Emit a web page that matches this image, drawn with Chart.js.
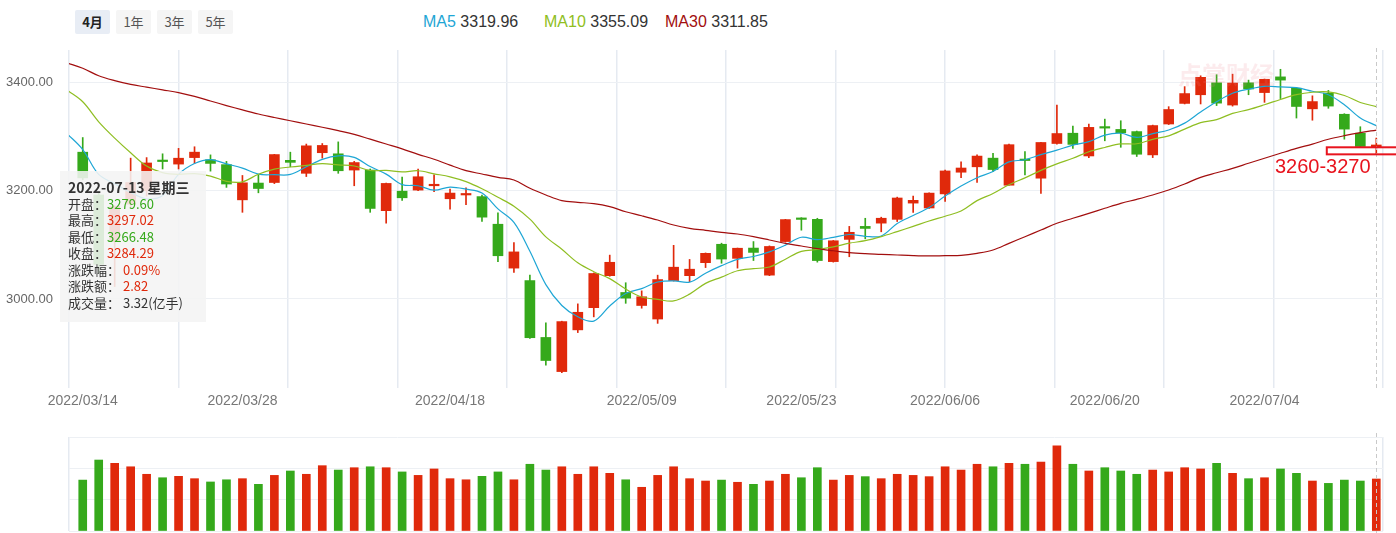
<!DOCTYPE html>
<html>
<head>
<meta charset="utf-8">
<script src="https://cdn.jsdelivr.net/npm/chart.js@4.4.1/dist/chart.umd.min.js"></script>
<style>
  body { margin: 0; background: #fff; width: 1396px; height: 533px; overflow: hidden; position: relative;
         font-family: "Noto Sans CJK SC", "Noto Sans", sans-serif; }
  #main { position: absolute; left: 0; top: 0; }
  #vol { position: absolute; left: 0; top: 430px; }
  .btn { position: absolute; top: 10px; width: 35px; height: 24px; line-height: 24px; text-align: center;
         font-size: 13px; background: #f5f5f5; color: #555; border-radius: 2px; }
  .btn.on { background: #e8edf5; color: #222; font-weight: bold; }
  .lg { position: absolute; top: 13px; font: 16px "Liberation Sans", Arial, sans-serif; color: #333; white-space: nowrap; }
  #tip { position: absolute; left: 60px; top: 171px; width: 146px; height: 151px; box-sizing: border-box;
         padding: 8px 0 0 8px; background: rgba(244, 244, 244, 0.88); font-size: 13px; line-height: 16.5px; color: #333; }
  #tip .d { font-weight: bold; font-size: 14px; }
  #wm { position: absolute; left: 1178px; top: 56px; font-size: 24px; font-weight: bold; color: rgba(235, 130, 140, 0.16); }
</style>
</head>
<body>
<div class="btn on" style="left:75px">4月</div>
<div class="btn" style="left:116px">1年</div>
<div class="btn" style="left:157px">3年</div>
<div class="btn" style="left:198px">5年</div>
<div class="lg" id="lg5" style="left:423px"></div>
<div class="lg" id="lg10" style="left:544px"></div>
<div class="lg" id="lg30" style="left:665px"></div>
<canvas id="main" width="1396" height="412"></canvas>
<canvas id="vol" width="1396" height="103"></canvas>
<div id="wm">点掌财经</div>
<div id="tip"></div>
<script>
// trading sessions shown (2022)
const dates = [
  '03-14','03-15','03-16','03-17','03-18','03-21','03-22','03-23','03-24','03-25','03-28','03-29','03-30','03-31',
  '04-01','04-06','04-07','04-08','04-11','04-12','04-13','04-14','04-15','04-18','04-19','04-20','04-21','04-22',
  '04-25','04-26','04-27','04-28','04-29','05-05','05-06','05-09','05-10','05-11','05-12','05-13','05-16','05-17',
  '05-18','05-19','05-20','05-23','05-24','05-25','05-26','05-27','05-30','05-31','06-01','06-02','06-06','06-07',
  '06-08','06-09','06-10','06-13','06-14','06-15','06-16','06-17','06-20','06-21','06-22','06-23','06-24','06-27',
  '06-28','06-29','06-30','07-01','07-04','07-05','07-06','07-07','07-08','07-11','07-12','07-13'
];
const year = '2022';

const opens = [
  3271, 3192, 3106, 3175, 3200, 3256, 3249, 3261, 3257, 3248, 3183, 3214, 3215, 3256,
  3232, 3270, 3268, 3238, 3238, 3163, 3199, 3201, 3209, 3185, 3192, 3189, 3138, 3057,
  3034, 2929, 2866, 2943, 2984, 3043, 3012, 2988, 2963, 3034, 3043, 3067, 3101, 3075,
  3094, 3044, 3106, 3149, 3147, 3069, 3110, 3134, 3140, 3147, 3177, 3168, 3194, 3234,
  3244, 3260, 3210, 3257, 3223, 3287, 3306, 3264, 3317, 3313, 3309, 3266, 3323, 3361,
  3377, 3399, 3358, 3399, 3381, 3410, 3389, 3351, 3380, 3341, 3306, 3279.60
];
const highs = [
  3298, 3198, 3172, 3260, 3261, 3268, 3278, 3281, 3266, 3254, 3228, 3229, 3267, 3271,
  3286, 3287, 3290, 3254, 3240, 3214, 3225, 3240, 3229, 3203, 3205, 3192, 3159, 3104,
  3044, 2956, 2959, 2991, 3048, 3081, 3030, 3015, 3044, 3099, 3073, 3085, 3103, 3094,
  3106, 3098, 3147, 3150, 3149, 3108, 3134, 3149, 3151, 3188, 3190, 3196, 3238, 3253,
  3266, 3269, 3286, 3272, 3289, 3358, 3319, 3323, 3332, 3329, 3310, 3321, 3355, 3392,
  3412, 3414, 3415, 3404, 3406, 3424, 3390, 3375, 3385, 3342, 3318, 3297.02
];
const lows = [
  3220, 3047, 3023, 3168, 3190, 3240, 3240, 3250, 3236, 3206, 3160, 3196, 3213, 3244,
  3226, 3260, 3232, 3209, 3160, 3140, 3182, 3200, 3198, 3166, 3174, 3143, 3069, 3049,
  2927, 2878, 2864, 2938, 2967, 3042, 2992, 2983, 2955, 3033, 3032, 3058, 3066, 3057,
  3071, 3043, 3105, 3127, 3068, 3068, 3078, 3111, 3124, 3143, 3160, 3167, 3180, 3224,
  3215, 3235, 3210, 3229, 3195, 3286, 3278, 3261, 3292, 3280, 3263, 3261, 3322, 3360,
  3360, 3357, 3356, 3377, 3363, 3370, 3334, 3330, 3352, 3295, 3280, 3266.48
];
const closes = [
  3223.53, 3063.97, 3170.71, 3215.04, 3251.07, 3253.69, 3259.86, 3271.03, 3250.26, 3212.24, 3214.50, 3203.94, 3266.60, 3252.20,
  3282.72, 3283.43, 3236.70, 3251.85, 3167.13, 3213.33, 3186.82, 3225.64, 3211.24, 3195.52, 3194.03, 3151.05, 3079.81, 3086.92,
  2928.51, 2886.43, 2958.28, 2975.48, 3047.06, 3067.76, 3001.56, 3004.14, 3035.84, 3058.70, 3054.99, 3084.28, 3073.75, 3093.70,
  3085.98, 3096.96, 3146.57, 3146.86, 3070.93, 3107.46, 3123.11, 3130.24, 3149.06, 3186.43, 3182.16, 3195.46, 3236.37, 3241.76,
  3263.79, 3238.95, 3284.83, 3255.55, 3288.91, 3305.41, 3285.38, 3316.79, 3315.43, 3306.72, 3267.20, 3320.15, 3349.75, 3379.19,
  3409.21, 3361.52, 3398.62, 3387.64, 3405.43, 3404.03, 3355.35, 3364.40, 3356.08, 3313.58, 3281.47, 3284.29
];
// 成交量, 亿手
const volumes = [
  3.25, 4.53, 4.32, 4.10, 3.62, 3.40, 3.49, 3.34, 3.13, 3.27, 3.34, 2.98, 3.55, 3.83,
  3.62, 4.17, 3.89, 4.04, 4.10, 4.04, 3.77, 3.55, 3.96, 3.34, 3.27, 3.49, 3.77, 3.27,
  4.26, 3.89, 4.10, 3.62, 4.10, 3.68, 3.27, 2.79, 3.55, 4.10, 3.34, 3.19, 3.25, 3.11,
  2.98, 3.19, 3.62, 3.40, 4.04, 3.25, 3.55, 3.47, 3.34, 3.62, 3.55, 3.47, 4.10, 3.89,
  4.26, 4.10, 4.32, 4.26, 4.40, 5.44, 4.26, 3.83, 4.04, 3.83, 3.62, 3.89, 3.77, 4.04,
  3.96, 4.32, 3.68, 3.34, 3.40, 3.96, 3.68, 3.19, 3.04, 3.25, 3.19, 3.32
];
// moving averages: first value belongs to the session before dates[0]
const ma5 = [
  3305.7, 3275.9, 3229.9, 3212.8, 3196.6, 3184.9, 3190.9, 3230.1, 3250.1, 3257.2, 3249.4, 3241.6, 3230.4, 3229.5, 3229.9,
  3244.0, 3257.8, 3264.3, 3261.4, 3244.4, 3230.5, 3211.2, 3209.0, 3200.8, 3206.5, 3202.7, 3195.5, 3166.3, 3141.5,
  3088.1, 3026.5, 2988.0, 2967.1, 2959.2, 2987.0, 3010.0, 3019.2, 3031.3, 3033.6, 3031.0, 3047.6, 3061.5, 3073.1,
  3078.5, 3086.9, 3099.4, 3114.0, 3109.5, 3113.8, 3119.0, 3115.7, 3116.2, 3139.3, 3154.2, 3168.7, 3189.9, 3208.4,
  3223.9, 3235.3, 3253.1, 3257.0, 3266.4, 3274.7, 3284.0, 3290.4, 3302.4, 3305.9, 3298.3, 3305.3, 3311.9, 3324.6,
  3345.1, 3364.0, 3379.7, 3387.2, 3392.5, 3391.4, 3390.2, 3383.4, 3377.1, 3358.7, 3334.2, 3319.96
];
const ma10 = [
  3386, 3364, 3327, 3297, 3270, 3245.3, 3233.4, 3230.0, 3231.5, 3226.9, 3217.2, 3216.3, 3230.3, 3239.8, 3243.6,
  3246.7, 3249.7, 3247.4, 3245.5, 3237.2, 3237.3, 3234.5, 3236.7, 3231.1, 3225.5, 3216.6, 3203.4, 3187.7, 3171.2,
  3147.3, 3114.6, 3091.8, 3066.7, 3050.4, 3037.6, 3018.3, 3003.6, 2999.2, 2996.4, 3009.0, 3028.8, 3040.4, 3052.2,
  3056.1, 3059.0, 3073.5, 3087.8, 3091.3, 3096.2, 3103.0, 3107.6, 3115.1, 3124.4, 3134.0, 3143.9, 3152.8, 3162.3,
  3181.6, 3194.8, 3210.9, 3223.5, 3237.4, 3249.3, 3259.7, 3271.8, 3279.7, 3286.2, 3286.5, 3294.7, 3301.2, 3313.5,
  3325.5, 3331.2, 3342.5, 3349.6, 3358.6, 3368.3, 3377.1, 3381.6, 3382.2, 3375.6, 3362.8, 3355.09
];
const ma30 = [
  3436, 3425.8, 3412, 3403, 3396, 3391, 3386, 3381, 3374, 3365.5, 3357, 3349, 3341.5, 3335, 3329,
  3323, 3317, 3310.7, 3304, 3295, 3286, 3277, 3267, 3258, 3247, 3237, 3230.7, 3224.6, 3219.6,
  3204.3, 3192, 3181.5, 3178.5, 3176, 3170.4, 3161, 3153.7, 3145.8, 3136.6, 3130.5, 3126.8, 3123, 3120,
  3115, 3108.9, 3102.7, 3097.8, 3092.8, 3089, 3085.5, 3083.6, 3082.5, 3081.2, 3080, 3079.4, 3080, 3080.5,
  3084.3, 3090.4, 3102.7, 3115, 3127.3, 3139.7, 3149, 3158, 3167.4, 3176.6, 3184, 3192, 3201.2, 3212.3,
  3224.6, 3233, 3241, 3250.5, 3259.7, 3269, 3278, 3286, 3294.8, 3301.4, 3307, 3311.85
];
const xTickLabels = ['2022/03/14', '2022/03/28', '2022/04/18', '2022/05/09', '2022/05/23', '2022/06/06', '2022/06/20', '2022/07/04'];
const yTicks = [3000, 3200, 3400];
const volTicks = [0, 2, 4, 6];
const zoneBand = [3267, 3280];
const zoneText = '3260-3270';
const zoneStart = 77.9;

const UP = '#e0290b', DOWN = '#35a91b';
const GRID = '#e5eaf1', HGRID = '#edf0f4';
const FONT = '"Liberation Sans", Arial, sans-serif';

const xMin = -0.86, xMax = 81.42;
const gridVals = Array.from({ length: 13 }, (_, k) => xMin + k * (xMax - xMin) / 12);
const labelAt = {};
xTickLabels.forEach(l => { labelAt[dates.indexOf(l.slice(5).replace('/', '-'))] = l; });

const candleColor = i => closes[i] >= opens[i] ? UP : DOWN;
const colors = dates.map((d, i) => candleColor(i));
const last = dates.length - 1;

// dashed crosshair on the latest session
const crosshair = {
  id: 'crosshair',
  afterDatasetsDraw(chart) {
    const x = chart.scales.x.getPixelForValue(last);
    const ctx = chart.ctx;
    const isMain = chart.canvas.id === 'main';
    ctx.save();
    ctx.strokeStyle = '#c9c9c9';
    ctx.lineWidth = 1;
    ctx.setLineDash([4, 3]);
    ctx.beginPath();
    ctx.moveTo(Math.round(x) + 0.5, isMain ? chart.chartArea.top - 2 : 3);
    ctx.lineTo(Math.round(x) + 0.5, isMain ? chart.chartArea.bottom : chart.height);
    ctx.stroke();
    ctx.restore();
  }
};

const zone = {
  id: 'zone',
  afterDraw(chart) {
    const { x, y } = chart.scales;
    const ctx = chart.ctx;
    const x0 = x.getPixelForValue(zoneStart);
    const yTop = y.getPixelForValue(zoneBand[1]);
    const yBot = y.getPixelForValue(zoneBand[0]);
    ctx.save();
    ctx.strokeStyle = '#e8141e';
    ctx.lineWidth = 2;
    ctx.strokeRect(x0, yTop, chart.width + 10 - x0, yBot - yTop);
    ctx.fillStyle = '#e8141e';
    ctx.font = '20px ' + FONT;
    ctx.textAlign = 'center';
    ctx.textBaseline = 'middle';
    ctx.fillText(zoneText, x.getPixelForValue(zoneStart - 0.25), yBot + 13);
    ctx.restore();
  }
};

const lineDs = (arr, color) => ({
  type: 'line',
  data: arr.map((v, k) => ({ x: k - 1, y: v })),
  borderColor: color,
  borderWidth: 1.2,
  pointRadius: 0,
  tension: 0.35,
  order: 0
});

new Chart(document.getElementById('main'), {
  type: 'bar',
  data: {
    datasets: [
      lineDs(ma30, '#a20e0e'),
      lineDs(ma10, '#8fbe22'),
      lineDs(ma5, '#1ea6d5'),
      {
        data: dates.map((d, i) => ({ x: i, y: [opens[i], closes[i]] })),
        backgroundColor: colors,
        barThickness: 10,
        minBarLength: 1.5,
        grouped: false,
        order: 1
      },
      {
        data: dates.map((d, i) => ({ x: i, y: [lows[i], highs[i]] })),
        backgroundColor: colors,
        barThickness: 1,
        grouped: false,
        order: 2
      }
    ]
  },
  options: {
    responsive: false,
    animation: false,
    layout: { padding: { top: 50, right: 13, bottom: 0, left: 0 } },
    plugins: { legend: { display: false }, tooltip: { enabled: false } },
    scales: {
      x: {
        type: 'linear', min: xMin, max: xMax, offset: false,
        afterBuildTicks: s => {
          s.ticks = gridVals.concat(Object.keys(labelAt).map(Number))
            .sort((a, b) => a - b).map(v => ({ value: v }));
        },
        grid: {
          offset: false,
          color: c => (c.tick && labelAt[c.tick.value] !== undefined) ? 'rgba(0,0,0,0)' : GRID,
          lineWidth: 1.5, drawTicks: false
        },
        border: { display: false },
        ticks: {
          autoSkip: false, maxRotation: 0, minRotation: 0, padding: 5, color: '#777',
          font: { size: 14, family: FONT },
          callback: v => labelAt[v] !== undefined ? labelAt[v] : ''
        },
        afterFit: s => { s.height = 24; }
      },
      y: {
        min: 2835.7, max: 3459.6,
        afterBuildTicks: s => { s.ticks = yTicks.map(v => ({ value: v })); },
        grid: { color: HGRID, drawTicks: false },
        border: { display: false },
        ticks: { color: '#666', padding: 16, font: { size: 13, family: FONT }, callback: v => v.toFixed(2) },
        afterFit: s => { s.width = 69; }
      }
    }
  },
  plugins: [crosshair, zone]
});

new Chart(document.getElementById('vol'), {
  type: 'bar',
  data: {
    datasets: [{
      data: volumes.map((v, i) => ({ x: i, y: v })),
      backgroundColor: colors,
      barThickness: 8
    }]
  },
  options: {
    responsive: false,
    animation: false,
    layout: { padding: { top: 7, right: 13, bottom: 2, left: 0 } },
    plugins: { legend: { display: false }, tooltip: { enabled: false } },
    scales: {
      x: {
        type: 'linear', min: xMin, max: xMax, offset: false,
        afterBuildTicks: s => { s.ticks = [{ value: xMin }, { value: xMax }]; },
        grid: { offset: false, color: GRID, lineWidth: 1.5, drawTicks: false },
        border: { display: false },
        ticks: { display: false },
        afterFit: s => { s.height = 0; }
      },
      y: {
        min: 0, max: 6,
        afterBuildTicks: s => { s.ticks = volTicks.map(v => ({ value: v })); },
        grid: { color: HGRID, drawTicks: false },
        border: { display: false },
        ticks: { display: false },
        afterFit: s => { s.width = 69; }
      }
    }
  },
  plugins: [crosshair]
});

// legend values
const lg = (id, name, color, arr) => {
  document.getElementById(id).innerHTML =
    '<span style="color:' + color + '">' + name + '</span> ' + arr[arr.length - 1].toFixed(2);
};
lg('lg5', 'MA5', '#1ea6d5', ma5);
lg('lg10', 'MA10', '#8fbe22', ma10);
lg('lg30', 'MA30', '#a20e0e', ma30);

// info box for the latest session
const prev = closes[last - 1];
const cmp = v => v >= prev ? UP : DOWN;
const chg = closes[last] - prev;
const week = ['日', '一', '二', '三', '四', '五', '六'];
const day = new Date(year + '-' + dates[last] + 'T00:00:00').getDay();
const row = (k, v, c) => '<div>' + k + '：<span style="color:' + c + '">' + v + '</span></div>';
document.getElementById('tip').innerHTML =
  '<div class="d">' + year + '-' + dates[last] + ' 星期' + week[day] + '</div>' +
  row('开盘', opens[last].toFixed(2), cmp(opens[last])) +
  row('最高', highs[last].toFixed(2), cmp(highs[last])) +
  row('最低', lows[last].toFixed(2), cmp(lows[last])) +
  row('收盘', closes[last].toFixed(2), cmp(closes[last])) +
  row('涨跌幅', ' ' + (chg / prev * 100).toFixed(2) + '%', chg >= 0 ? UP : DOWN) +
  row('涨跌额', ' ' + chg.toFixed(2), chg >= 0 ? UP : DOWN) +
  row('成交量', ' ' + volumes[last].toFixed(2) + '(亿手)', '#333');
</script>
</body>
</html>
